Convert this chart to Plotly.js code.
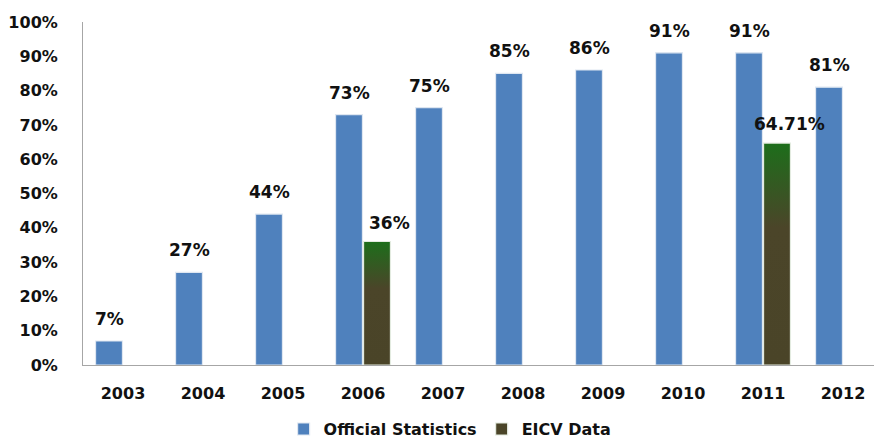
<!DOCTYPE html>
<html>
<head>
<meta charset="utf-8">
<script src="https://cdn.plot.ly/plotly-3.0.1.min.js"></script>
<style>
  html, body { margin: 0; padding: 0; background: #ffffff; }
  #chart { width: 874px; height: 441px; }
</style>
</head>
<body>
<div id="chart"></div>
<script>
// Years on the category axis
const years = ['2003', '2004', '2005', '2006', '2007', '2008', '2009', '2010', '2011', '2012'];

// Official statistics, percent
const officialValues = [7, 27, 44, 73, 75, 85, 86, 91, 91, 81];
const officialLabels = ['7%', '27%', '44%', '73%', '75%', '85%', '86%', '91%', '91%', '81%'];

// EICV survey data, percent (only survey years)
const eicvValues = [null, null, null, 36, null, null, null, null, 64.71, null];
const eicvLabels = [null, null, null, '36%', null, null, null, null, '64.71%', null];

const FONT = 'DejaVu Sans, Verdana, sans-serif';
const BLUE = '#4f81bd';
const OLIVE = '#4b4529';

const traces = [
  {
    type: 'bar',
    name: 'Official Statistics',
    x: years,
    y: officialValues,
    marker: { color: BLUE, line: { color: '#dfe7f1', width: 1.2 } },
    hoverinfo: 'skip'
  },
  {
    type: 'bar',
    name: 'EICV Data',
    x: years,
    y: eicvValues,
    marker: { color: OLIVE, line: { color: '#e3ebe0', width: 1.2 } },
    hoverinfo: 'skip'
  }
];

// Value labels above each bar; the year strings look numeric, so the
// category position is given by index to keep it on the category axis.
const annotations = [];
function labelFont() { return { family: FONT, size: 17, color: '#111111' }; }
years.forEach((yr, i) => {
  if (officialValues[i] !== null) {
    annotations.push({
      x: i, y: officialValues[i], xref: 'x', yref: 'y',
      text: '<b>' + officialLabels[i] + '</b>', showarrow: false,
      xshift: -14, yshift: 22, yanchor: 'middle', font: labelFont()
    });
  }
  if (eicvValues[i] !== null) {
    annotations.push({
      x: i, y: eicvValues[i], xref: 'x', yref: 'y',
      text: '<b>' + eicvLabels[i] + '</b>', showarrow: false,
      xshift: 26, yshift: 19, yanchor: 'middle', font: labelFont()
    });
  }
});

const layout = {
  width: 874,
  height: 441,
  paper_bgcolor: '#ffffff',
  plot_bgcolor: '#ffffff',
  margin: { l: 83, r: 0, t: 22, b: 76 },
  barmode: 'group',
  bargap: 0.3,
  bargroupgap: 0.04,
  showlegend: true,
  legend: {
    orientation: 'h',
    xref: 'container', yref: 'container',
    x: 0.515, xanchor: 'center',
    y: 0.027, yanchor: 'middle',
    font: { family: FONT, size: 16, color: '#111111', weight: 'bold' },
    itemwidth: 30,
    traceorder: 'normal'
  },
  xaxis: {
    type: 'category',
    range: [-0.5, 9.3875],
    showline: true,
    linecolor: '#a6a6a6',
    linewidth: 1,
    showgrid: false,
    zeroline: false,
    ticks: '',
    ticklabelstandoff: 14,
    tickfont: { family: FONT, size: 16, color: '#111111', weight: 'bold' },
    fixedrange: true
  },
  yaxis: {
    range: [0, 100],
    dtick: 10,
    tick0: 0,
    ticksuffix: '%',
    showline: true,
    linecolor: '#a6a6a6',
    linewidth: 1,
    showgrid: false,
    zeroline: false,
    ticks: '',
    ticklabelstandoff: 21,
    tickfont: { family: FONT, size: 16, color: '#111111', weight: 'bold' },
    fixedrange: true
  },
  annotations: annotations
};

Plotly.newPlot('chart', traces, layout, { displayModeBar: false, staticPlot: true }).then(gd => {
  // Green-to-olive vertical fill for the EICV bars
  const svg = gd.querySelector('svg.main-svg');
  const NS = 'http://www.w3.org/2000/svg';
  let defs = svg.querySelector('defs');
  if (!defs) { defs = document.createElementNS(NS, 'defs'); svg.insertBefore(defs, svg.firstChild); }
  const grad = document.createElementNS(NS, 'linearGradient');
  grad.setAttribute('id', 'eicvFill');
  grad.setAttribute('x1', '0'); grad.setAttribute('y1', '0');
  grad.setAttribute('x2', '0'); grad.setAttribute('y2', '1');
  [['0', '#1d6e1b'], ['0.38', '#4b4529'], ['1', '#4a4428']].forEach(([off, col]) => {
    const s = document.createElementNS(NS, 'stop');
    s.setAttribute('offset', off);
    s.setAttribute('stop-color', col);
    grad.appendChild(s);
  });
  defs.appendChild(grad);
  const barTraces = gd.querySelectorAll('.barlayer .trace');
  if (barTraces[1]) {
    barTraces[1].querySelectorAll('path').forEach(p => { p.style.fill = 'url(#eicvFill)'; });
  }
});
</script>
</body>
</html>
